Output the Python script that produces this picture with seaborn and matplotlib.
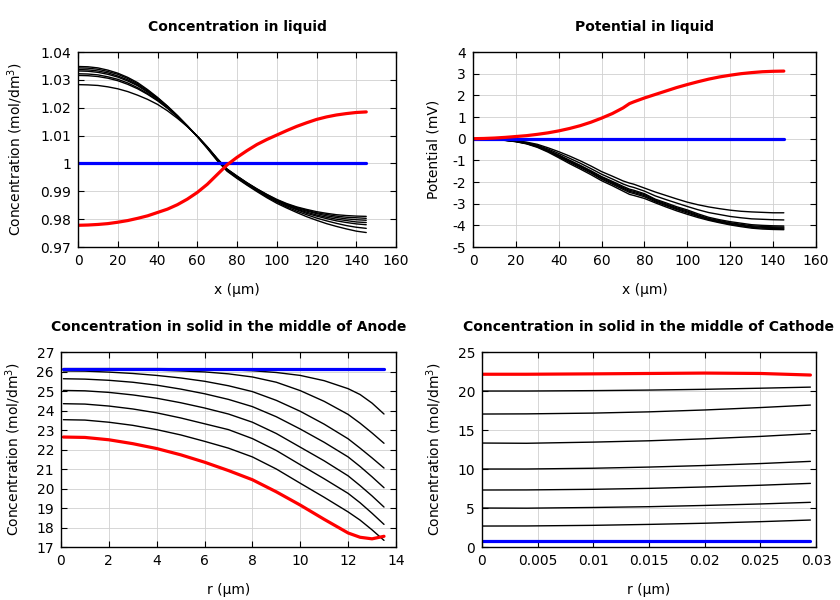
import numpy as np
import pandas as pd
import seaborn as sns
import matplotlib.pyplot as plt
from matplotlib.ticker import MultipleLocator, FuncFormatter

# ---- concentration in liquid (mol/dm3) vs x (um) ----
x_liq = [0, 5, 10, 15, 20, 25, 30, 35, 40, 45, 50, 55, 60, 65, 70, 75,
         80, 85, 90, 95, 100, 105, 110, 115, 120, 125, 130, 135, 140, 145]
c_liq_black = [
    [1.0283, 1.0282, 1.0280, 1.0275, 1.0268, 1.0258, 1.0245, 1.0230, 1.0212, 1.0189, 1.0162, 1.0132, 1.0098, 1.0060, 1.0018,
     0.9980, 0.9955, 0.9931, 0.9909, 0.9889, 0.9871, 0.9856, 0.9844, 0.9835, 0.9827, 0.9821, 0.9816, 0.9813, 0.9811, 0.9810],
    [1.0316, 1.0315, 1.0312, 1.0306, 1.0297, 1.0284, 1.0268, 1.0248, 1.0225, 1.0198, 1.0167, 1.0134, 1.0098, 1.0059, 1.0017,
     0.9979, 0.9954, 0.9930, 0.9908, 0.9888, 0.9869, 0.9854, 0.9842, 0.9832, 0.9823, 0.9817, 0.9811, 0.9807, 0.9805, 0.9803],
    [1.0322, 1.0321, 1.0318, 1.0311, 1.0302, 1.0289, 1.0272, 1.0251, 1.0227, 1.0199, 1.0168, 1.0134, 1.0098, 1.0059, 1.0016,
     0.9978, 0.9953, 0.9929, 0.9907, 0.9886, 0.9868, 0.9852, 0.9839, 0.9829, 0.9820, 0.9812, 0.9806, 0.9801, 0.9798, 0.9796],
    [1.0332, 1.0331, 1.0327, 1.0320, 1.0310, 1.0296, 1.0279, 1.0256, 1.0231, 1.0202, 1.0170, 1.0134, 1.0097, 1.0058, 1.0015,
     0.9977, 0.9952, 0.9928, 0.9905, 0.9884, 0.9866, 0.9850, 0.9836, 0.9825, 0.9815, 0.9807, 0.9800, 0.9795, 0.9790, 0.9788],
    [1.0337, 1.0336, 1.0332, 1.0325, 1.0314, 1.0300, 1.0282, 1.0259, 1.0233, 1.0203, 1.0170, 1.0134, 1.0097, 1.0057, 1.0014,
     0.9976, 0.9950, 0.9926, 0.9904, 0.9883, 0.9864, 0.9848, 0.9834, 0.9821, 0.9811, 0.9802, 0.9794, 0.9788, 0.9783, 0.9780],
    [1.0343, 1.0342, 1.0338, 1.0330, 1.0320, 1.0305, 1.0286, 1.0262, 1.0235, 1.0205, 1.0171, 1.0135, 1.0097, 1.0056, 1.0012,
     0.9974, 0.9948, 0.9924, 0.9902, 0.9880, 0.9861, 0.9844, 0.9829, 0.9816, 0.9804, 0.9794, 0.9785, 0.9777, 0.9771, 0.9767],
    [1.0348, 1.0347, 1.0343, 1.0335, 1.0324, 1.0309, 1.0290, 1.0265, 1.0237, 1.0206, 1.0172, 1.0135, 1.0096, 1.0054, 1.0010,
     0.9972, 0.9946, 0.9922, 0.9899, 0.9877, 0.9857, 0.9840, 0.9824, 0.9809, 0.9796, 0.9784, 0.9774, 0.9765, 0.9757, 0.9752],
]
c_liq_initial = [1.0] * len(x_liq)
c_liq_final = [0.9778, 0.9779, 0.9781, 0.9784, 0.9789, 0.9795, 0.9803, 0.9812, 0.9824, 0.9836, 0.9852, 0.9872, 0.9896, 0.9925, 0.9960,
               0.9995, 1.0022, 1.0046, 1.0068, 1.0086, 1.0102, 1.0118, 1.0133, 1.0146, 1.0158, 1.0167, 1.0174, 1.0179, 1.0183, 1.0185]

# ---- potential in liquid (mV) vs x (um) ----
x_pot = [0, 5, 10, 15, 20, 25, 30, 35, 40, 45, 50, 55, 60, 65, 70, 73, 75,
         80, 85, 90, 95, 100, 105, 110, 115, 120, 125, 130, 135, 140, 145]
phi_black = [
    [0, -0.005, -0.02, -0.05, -0.09, -0.16, -0.26, -0.42, -0.60, -0.80, -1.02, -1.26, -1.52, -1.73, -1.95, -2.05, -2.10,
     -2.28, -2.46, -2.62, -2.78, -2.93, -3.05, -3.15, -3.23, -3.30, -3.35, -3.38, -3.40, -3.42, -3.42],
    [0, -0.005, -0.026, -0.059, -0.105, -0.183, -0.301, -0.478, -0.681, -0.90, -1.13, -1.38, -1.64, -1.86, -2.09, -2.20, -2.25,
     -2.42, -2.64, -2.81, -2.97, -3.13, -3.28, -3.41, -3.50, -3.59, -3.65, -3.70, -3.72, -3.74, -3.75],
    [0, -0.005, -0.031, -0.066, -0.117, -0.203, -0.336, -0.528, -0.751, -0.99, -1.23, -1.48, -1.75, -1.97, -2.20, -2.33, -2.38,
     -2.54, -2.79, -2.96, -3.14, -3.29, -3.47, -3.63, -3.74, -3.83, -3.90, -3.97, -4.00, -4.02, -4.03],
    [0, -0.005, -0.033, -0.069, -0.122, -0.210, -0.348, -0.546, -0.776, -1.02, -1.26, -1.51, -1.78, -2.01, -2.25, -2.38, -2.43,
     -2.58, -2.83, -3.01, -3.19, -3.34, -3.52, -3.68, -3.78, -3.88, -3.95, -4.02, -4.05, -4.07, -4.08],
    [0, -0.005, -0.035, -0.072, -0.127, -0.218, -0.362, -0.566, -0.804, -1.06, -1.30, -1.55, -1.83, -2.05, -2.29, -2.43, -2.48,
     -2.63, -2.87, -3.05, -3.23, -3.38, -3.56, -3.71, -3.82, -3.91, -3.99, -4.06, -4.09, -4.11, -4.12],
    [0, -0.005, -0.037, -0.075, -0.132, -0.226, -0.376, -0.586, -0.832, -1.09, -1.34, -1.59, -1.87, -2.10, -2.34, -2.48, -2.53,
     -2.68, -2.91, -3.09, -3.27, -3.43, -3.59, -3.74, -3.85, -3.95, -4.02, -4.09, -4.13, -4.15, -4.16],
    [0, -0.005, -0.040, -0.080, -0.140, -0.240, -0.400, -0.620, -0.880, -1.15, -1.40, -1.66, -1.94, -2.17, -2.42, -2.57, -2.62,
     -2.76, -2.96, -3.15, -3.33, -3.49, -3.64, -3.77, -3.88, -3.98, -4.06, -4.13, -4.17, -4.19, -4.20],
]
phi_initial = [0.0] * len(x_pot)
phi_final = [0, 0.01, 0.03, 0.06, 0.10, 0.14, 0.20, 0.27, 0.36, 0.47, 0.60, 0.76, 0.95, 1.16, 1.42, 1.62, 1.70,
             1.88, 2.04, 2.20, 2.36, 2.50, 2.63, 2.75, 2.85, 2.93, 3.00, 3.05, 3.09, 3.11, 3.12]

# ---- solid concentration in the anode particle vs r (um) ----
r_an = [0.1, 1, 2, 3, 4, 5, 6, 7, 8, 9, 10, 11, 12, 12.5, 13, 13.5]
cs_an_black = [
    [26.15, 26.15, 26.15, 26.15, 26.15, 26.14, 26.12, 26.09, 26.04, 25.95, 25.80, 25.53, 25.12, 24.82, 24.38, 23.82],
    [26.12, 26.12, 26.11, 26.09, 26.07, 26.03, 25.98, 25.88, 25.72, 25.45, 25.02, 24.47, 23.80, 23.35, 22.85, 22.32],
    [26.03, 26.02, 25.97, 25.90, 25.80, 25.67, 25.50, 25.27, 24.97, 24.52, 23.96, 23.30, 22.55, 22.07, 21.57, 21.05],
    [25.63, 25.61, 25.55, 25.45, 25.30, 25.10, 24.86, 24.57, 24.20, 23.68, 23.05, 22.37, 21.62, 21.13, 20.60, 20.04],
    [25.03, 25.01, 24.93, 24.80, 24.63, 24.40, 24.13, 23.82, 23.40, 22.82, 22.12, 21.42, 20.65, 20.15, 19.62, 19.05],
    [24.35, 24.33, 24.23, 24.08, 23.88, 23.62, 23.32, 23.02, 22.56, 21.95, 21.22, 20.50, 19.75, 19.27, 18.73, 18.16],
    [23.53, 23.51, 23.40, 23.24, 23.02, 22.75, 22.42, 22.07, 21.62, 21.00, 20.27, 19.55, 18.80, 18.38, 17.88, 17.34],
]
cs_an_initial = [26.15] * len(r_an)
cs_an_final = [22.64, 22.62, 22.50, 22.30, 22.05, 21.73, 21.35, 20.92, 20.45, 19.83, 19.15, 18.42, 17.72, 17.50, 17.42, 17.55]

# ---- solid concentration in the cathode particle vs r (um) ----
r_ca = [0.0001, 0.004, 0.01, 0.015, 0.02, 0.025, 0.0295]
cs_ca_black = [
    [20.00, 20.00, 20.05, 20.12, 20.22, 20.36, 20.50],
    [17.05, 17.07, 17.17, 17.33, 17.57, 17.88, 18.20],
    [13.33, 13.30, 13.45, 13.62, 13.87, 14.18, 14.53],
    [10.00, 10.00, 10.10, 10.25, 10.45, 10.70, 10.98],
    [7.31, 7.32, 7.40, 7.52, 7.70, 7.92, 8.16],
    [5.00, 4.98, 5.07, 5.17, 5.33, 5.52, 5.73],
    [2.69, 2.70, 2.78, 2.90, 3.05, 3.25, 3.46],
]
cs_ca_initial = [0.8] * len(r_ca)
cs_ca_final = [22.15, 22.15, 22.20, 22.25, 22.30, 22.25, 22.05]

sns.set_theme(style="ticks")
plt.rcParams["font.family"] = ["DejaVu Sans"]
plt.rcParams["mathtext.fontset"] = "dejavusans"
plt.rcParams["text.color"] = "black"
plt.rcParams["axes.labelcolor"] = "black"


def to_long(xs, black, initial, final):
    frames = []
    for i, ys in enumerate(black):
        frames.append(pd.DataFrame({"x": xs, "y": ys, "curve": f"t{i}"}))
    frames.append(pd.DataFrame({"x": xs, "y": initial, "curve": "initial"}))
    frames.append(pd.DataFrame({"x": xs, "y": final, "curve": "final"}))
    return pd.concat(frames, ignore_index=True)


def panel(ax, df, title, xlabel, ylabel, xlim, xstep, ylim, ystep, ylab_x):
    names = [c for c in df["curve"].unique() if c.startswith("t")]
    order = names + ["initial", "final"]
    pal = {n: "black" for n in names}
    pal.update({"initial": "#0000ff", "final": "#ff0000"})
    widths = {n: 1.0 for n in names}
    widths.update({"initial": 2.3, "final": 2.3})
    sns.lineplot(data=df, x="x", y="y", hue="curve", size="curve", hue_order=order,
                 size_order=order, palette=pal, sizes=widths, estimator=None,
                 sort=False, legend=False, ax=ax)
    ax.set_xlim(*xlim)
    ax.set_ylim(*ylim)
    ax.xaxis.set_major_locator(MultipleLocator(xstep))
    ax.yaxis.set_major_locator(MultipleLocator(ystep))
    fmt = FuncFormatter(lambda v, p: f"{round(v, 6):g}")
    ax.xaxis.set_major_formatter(fmt)
    ax.yaxis.set_major_formatter(fmt)
    ax.grid(True, color="#d0d0d0", lw=0.6)
    ax.set_axisbelow(True)
    ax.tick_params(direction="in", length=4, width=0.8, top=True, right=True,
                   labelsize=10, colors="black", pad=5)
    for s in ax.spines.values():
        s.set_linewidth(1.0)
        s.set_color("black")
    ax.set_title(title, fontsize=10, fontweight="bold", pad=15, color="black")
    ax.set_xlabel(xlabel, fontsize=10)
    ax.set_ylabel(ylabel, fontsize=10)
    ax.xaxis.set_label_coords(0.5, -0.185)
    ax.yaxis.set_label_coords(ylab_x, 0.5)


fig = plt.figure(figsize=(8.4, 6), dpi=100)
ax1 = fig.add_axes([0.0929, 0.5883, 0.3786, 0.325])
ax2 = fig.add_axes([0.5631, 0.5883, 0.4083, 0.325])
ax3 = fig.add_axes([0.0726, 0.0883, 0.3988, 0.325])
ax4 = fig.add_axes([0.5738, 0.0883, 0.3976, 0.325])

conc_label = "Concentration (mol/dm$^3$)"
panel(ax1, to_long(x_liq, c_liq_black, c_liq_initial, c_liq_final),
      "Concentration in liquid", "x (\u00b5m)", conc_label,
      (0, 160), 20, (0.97, 1.04), 0.01, -0.167)
panel(ax2, to_long(x_pot, phi_black, phi_initial, phi_final),
      "Potential in liquid", "x (\u00b5m)", "Potential (mV)",
      (0, 160), 20, (-5, 4), 1, -0.095)
panel(ax3, to_long(r_an, cs_an_black, cs_an_initial, cs_an_final),
      "Concentration in solid in the middle of Anode", "r (\u00b5m)", conc_label,
      (0, 14), 2, (17, 27), 1, -0.114)
panel(ax4, to_long(r_ca, cs_ca_black, cs_ca_initial, cs_ca_final),
      "Concentration in solid in the middle of Cathode", "r (\u00b5m)", conc_label,
      (0, 0.03), 0.005, (0, 25), 5, -0.114)

plt.savefig("out.png", dpi=100)
